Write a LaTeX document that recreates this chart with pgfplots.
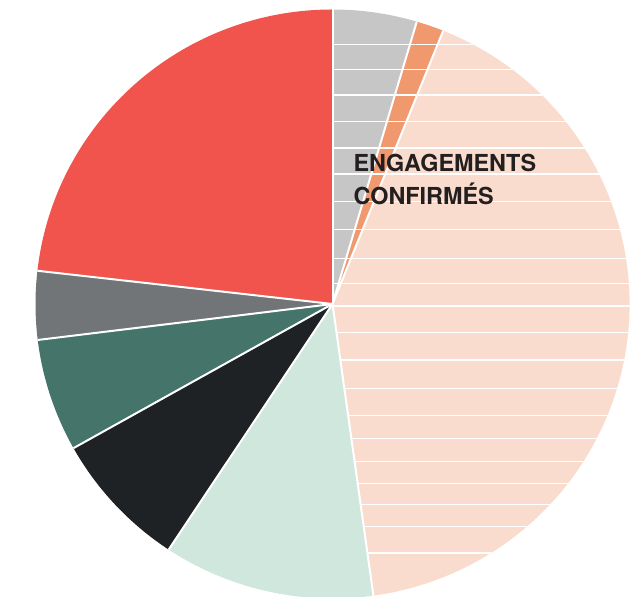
\documentclass[border=0pt]{standalone}
\usepackage{pgfplots}
\pgfplotsset{compat=1.18}
\usepackage{pgfplotstable}
\usepackage{fontspec}
\newfontfamily\heros{TeX Gyre Heros}

\definecolor{slice0}{HTML}{C6C6C6}
\definecolor{slice1}{HTML}{F0996F}
\definecolor{slice2}{HTML}{F9DCCD}
\definecolor{slice3}{HTML}{CFE7DD}
\definecolor{slice4}{HTML}{1F2225}
\definecolor{slice5}{HTML}{45756A}
\definecolor{slice6}{HTML}{727578}
\definecolor{slice7}{HTML}{F0544C}
\definecolor{textdark}{HTML}{231F20}

% parts of the pie, clockwise from 12 o'clock (percent)
\pgfplotstableread{
share
4.58
1.50
41.72
11.50
7.56
6.19
3.75
23.19
}\slices

\def\rx{297}
\def\ry{294.5}

% start / end angle of each slice
\def\cum{0}
\pgfplotsforeachungrouped \i in {0,...,7}{%
  \pgfplotstablegetelem{\i}{share}\of\slices
  \pgfmathsetmacro\a{90-3.6*\cum}%
  \pgfmathsetmacro\cum{\cum+\pgfplotsretval}%
  \pgfmathsetmacro\b{90-3.6*\cum}%
  \expandafter\xdef\csname sa\i\endcsname{\a}%
  \expandafter\xdef\csname sb\i\endcsname{\b}%
}

\begin{document}
\begin{tikzpicture}
\begin{axis}[
    hide axis, x=1bp, y=1bp, clip=false,
    xmin=-332.5, xmax=309.5, ymin=-293, ymax=304,
]
% frame of the picture
\path (axis cs:-332.5,-293) rectangle (axis cs:309.5,304);
\begin{scope}[overlay]
\clip (axis cs:-332.5,-293) rectangle (axis cs:309.5,304);
% slices
\pgfplotsinvokeforeach{0,...,7}{
  \fill[slice#1] (axis cs:0,0)
    -- (axis cs:{\rx*cos(\csname sa#1\endcsname)},{\ry*sin(\csname sa#1\endcsname)})
    arc[start angle=\csname sa#1\endcsname, end angle=\csname sb#1\endcsname,
        x radius=\rx bp, y radius=\ry bp] -- cycle;
}
% hatching of the confirmed commitments
\begin{scope}
  \clip (axis cs:0,0) -- (axis cs:0,\ry)
    arc[start angle=90, end angle=\csname sb2\endcsname, x radius=\rx bp, y radius=\ry bp] -- cycle;
  \pgfplotsinvokeforeach{44.3,69.7,95,121.7,148,174,201.5,229.3,258.3,283.3,306,332.7,360,388.3,415.3,438.3,461.7,483.3,504.7,526.7,553}{
    \draw[white, line width=1.2bp] (axis cs:0,{304-#1}) -- (axis cs:300,{304-#1});
  }
\end{scope}
% separators
\pgfplotsinvokeforeach{0,...,7}{
  \draw[white, line width=2bp] (axis cs:0,0)
    -- (axis cs:{\rx*cos(\csname sa#1\endcsname)},{\ry*sin(\csname sa#1\endcsname)});
}
\end{scope}
\node[anchor=base west, inner sep=0pt, text=textdark,
      font=\heros\bfseries\fontsize{23.4bp}{28bp}\selectfont] at (axis cs:20.8,132.5) {ENGAGEMENTS};
\node[anchor=base west, inner sep=0pt, text=textdark,
      font=\heros\bfseries\fontsize{23.4bp}{28bp}\selectfont] at (axis cs:20.8,99.5) {CONFIRMÉS};
\end{axis}
\end{tikzpicture}
\end{document}
